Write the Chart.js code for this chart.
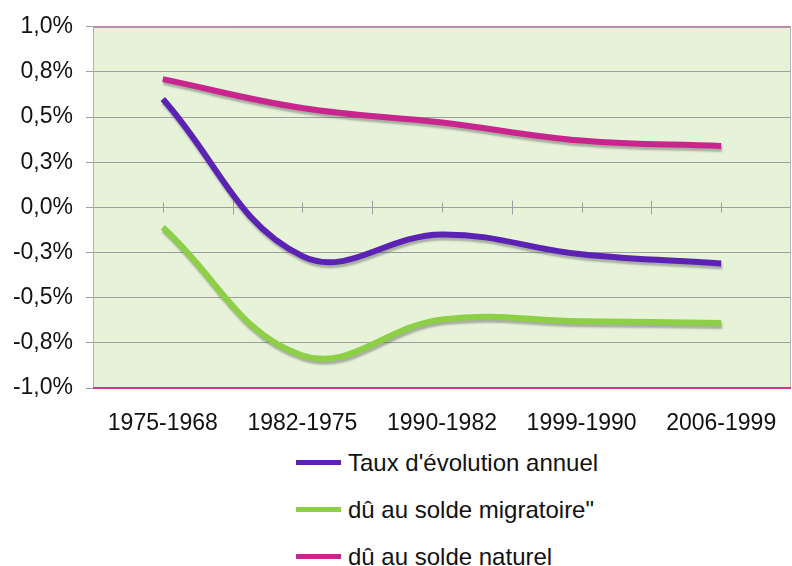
<!DOCTYPE html>
<html>
<head>
<meta charset="utf-8">
<script src="https://cdn.jsdelivr.net/npm/chart.js@4.4.0/dist/chart.umd.min.js"></script>
<style>
	body { margin: 0; background: #fff; font-family: "Liberation Sans", Arial, sans-serif; }
	#wrap { position: relative; width: 792px; height: 566px; }
	#legend { position: absolute; left: 296px; top: 440px; }
	.item { position: absolute; left: 0; white-space: nowrap; font-size: 24px; color: #111; }
	.item span.line { position: absolute; left: 0; width: 45px; height: 5px; }
	.item span.txt { position: absolute; left: 52px; top: -14px; line-height: 28px; }
</style>
</head>
<body>
<div id="wrap">
	<canvas id="myChart" width="792" height="440"></canvas>
	<div id="legend"></div>
</div>
<script>
// periods (categories)
var periods = ['1975-1968', '1982-1975', '1990-1982', '1999-1990', '2006-1999'];
// values in %
var tauxAnnuel = [0.60, -0.27, -0.15, -0.26, -0.31];
var soldeMigratoire = [-0.11, -0.82, -0.62, -0.63, -0.64];
var soldeNaturel = [0.71, 0.55, 0.47, 0.37, 0.34];
// y tick labels, from -1 to 1 by 0.25
var yTickLabels = ['-1,0%', '-0,8%', '-0,5%', '-0,3%', '0,0%', '0,3%', '0,5%', '0,8%', '1,0%'];
var seriesNames = ["Taux d'évolution annuel", 'dû au solde migratoire"', 'dû au solde naturel'];
var seriesColors = ['#5B22B4', '#8DCF45', '#C8268E'];

document.addEventListener("DOMContentLoaded", function () {
	var ctx = document.getElementById('myChart').getContext('2d');

	// plot background, borders and the category axis at zero
	var plotDeco = {
		id: 'plotDeco',
		beforeDraw: function (chart) {
			var a = chart.chartArea, c = chart.ctx;
			c.save();
			c.fillStyle = '#E7F3D9';
			c.fillRect(a.left, a.top, a.right - a.left, a.bottom - a.top);
			c.restore();
		},
		beforeDatasetsDraw: function (chart) {
			var a = chart.chartArea, c = chart.ctx;
			var xs = chart.scales.x, ys = chart.scales.y;
			var y0 = Math.round(ys.getPixelForValue(0)) + 0.5;
			c.save();
			c.lineWidth = 1;
			c.strokeStyle = '#9f9f9f';
			c.beginPath();
			c.moveTo(a.left, y0); c.lineTo(a.right, y0);
			for (var i = 0; i < periods.length; i++) {
				var px = Math.round(xs.getPixelForValue(i)) + 0.5;
				c.moveTo(px, y0 - 5); c.lineTo(px, y0 + 5);
				if (i > 0) {
					var bx = Math.round((xs.getPixelForValue(i) + xs.getPixelForValue(i - 1)) / 2) + 0.5;
					c.moveTo(bx, y0 - 7); c.lineTo(bx, y0 + 7);
				}
			}
			c.stroke();
			// borders
			c.strokeStyle = '#C86AA8';
			c.beginPath(); c.moveTo(a.left, a.top + 0.5); c.lineTo(a.right, a.top + 0.5); c.stroke();
			c.strokeStyle = '#C9A3C6';
			c.beginPath(); c.moveTo(a.left + 0.5, a.top); c.lineTo(a.left + 0.5, a.bottom); c.stroke();
			c.strokeStyle = '#B8B8B8';
			c.beginPath(); c.moveTo(a.right - 0.5, a.top); c.lineTo(a.right - 0.5, a.bottom); c.stroke();
			c.lineWidth = 2;
			c.strokeStyle = '#D2358F';
			c.beginPath(); c.moveTo(a.left, a.bottom); c.lineTo(a.right, a.bottom); c.stroke();
			c.restore();
		}
	};

	// grey shadow under the lines
	var lineShadow = {
		id: 'lineShadow',
		beforeDatasetDraw: function (chart) {
			var c = chart.ctx;
			c.save();
			c.shadowColor = 'rgba(90, 90, 90, 0.45)';
			c.shadowBlur = 2;
			c.shadowOffsetX = 1;
			c.shadowOffsetY = 3;
		},
		afterDatasetDraw: function (chart) {
			chart.ctx.restore();
		}
	};

	var datasets = [tauxAnnuel, soldeMigratoire, soldeNaturel].map(function (vals, i) {
		return {
			label: seriesNames[i],
			data: vals,
			borderColor: seriesColors[i],
			backgroundColor: seriesColors[i],
			borderWidth: 6,
			pointRadius: 0,
			tension: 0.4,
			fill: false
		};
	});

	var myChart = new Chart(ctx, {
		type: 'line',
		data: { labels: periods, datasets: datasets },
		options: {
			responsive: false,
			animation: false,
			layout: { padding: { top: 24, right: 1, left: 0, bottom: 0 } },
			plugins: { legend: { display: false }, tooltip: { enabled: false } },
			scales: {
				x: {
					offset: true,
					grid: { display: false },
					border: { display: false },
					ticks: { color: '#111', padding: 14, font: { family: 'Liberation Sans', size: 23 } },
					afterFit: function (s) { s.height = 52; }
				},
				y: {
					min: -1,
					max: 1,
					border: { display: false },
					grid: {
						color: '#9f9f9f',
						tickLength: 7,
						drawTicks: true
					},
					ticks: {
						stepSize: 0.25,
						padding: 13,
						color: '#111',
						font: { family: 'Liberation Sans', size: 23 },
						callback: function (v, i) { return yTickLabels[i]; }
					},
					afterFit: function (s) { s.width = 93; }
				}
			}
		},
		plugins: [plotDeco, lineShadow]
	});

	// legend, one entry per row
	var legend = document.getElementById('legend');
	seriesNames.forEach(function (name, i) {
		var item = document.createElement('div');
		item.className = 'item';
		item.style.top = (23 + i * 47) + 'px';
		item.innerHTML = '<span class="line" style="background:' + seriesColors[i] + ';top:-3px"></span><span class="txt">' + name + '</span>';
		legend.appendChild(item);
	});
});
</script>
</body>
</html>
